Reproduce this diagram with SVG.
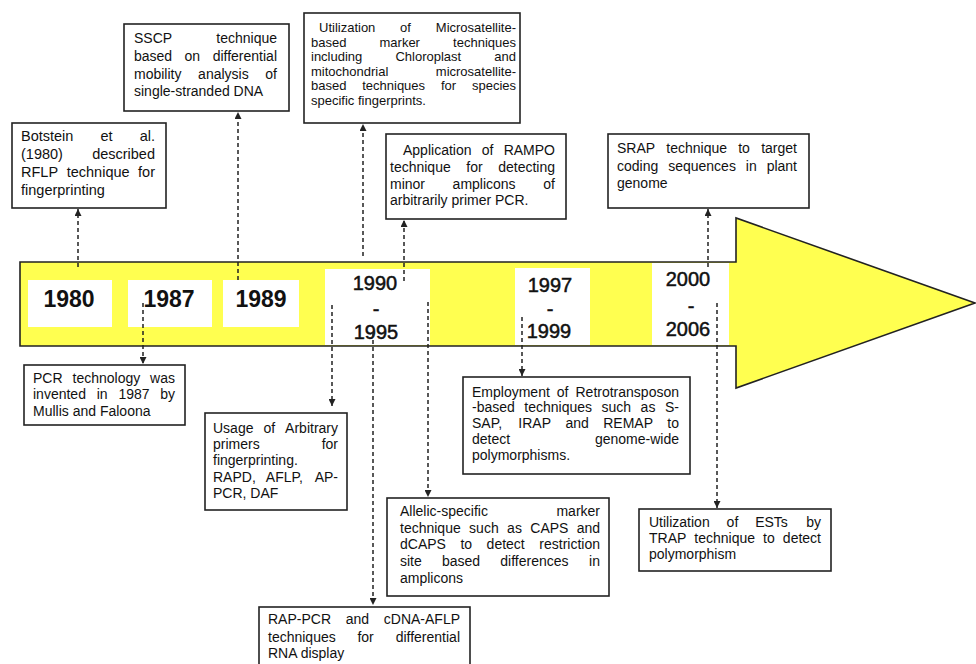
<svg xmlns="http://www.w3.org/2000/svg" width="976" height="664" viewBox="0 0 976 664">
<style>
.bg{fill:#fff}
.box{fill:#fff;stroke:#222;stroke-width:1.6}
.t{font-family:"Liberation Sans",Arial,sans-serif;font-size:14px;fill:#111}
.t1{font-size:14.5px}
.t3{font-size:13px}
.yr{font-family:"Liberation Sans",Arial,sans-serif;font-weight:bold;font-size:23px;fill:#111;text-anchor:middle}
.yr2{font-family:"Liberation Sans",Arial,sans-serif;font-size:20px;fill:#111;stroke:#111;stroke-width:0.5;text-anchor:middle}
.e{text-anchor:end}
.con{fill:none;stroke:#222;stroke-width:1.5;stroke-dasharray:4 3;marker-end:url(#ah)}
.yb{fill:#fff}
</style>
<defs>
<marker id="ah" viewBox="0 0 8 8" refX="8" refY="4" markerWidth="7" markerHeight="7" orient="auto" markerUnits="userSpaceOnUse">
<path d="M0,0 L8,4 L0,8 z" fill="#222"/>
</marker>
</defs>
<rect class="bg" x="0" y="0" width="976" height="664"/>

<g id="timeline">
<polygon points="20,262 736,262 736,218 975,303 736,388 736,346 20,346" fill="#FFFF50" stroke="#222" stroke-width="1.6" stroke-linejoin="miter"/>
<rect class="yb" x="28" y="280" width="84" height="47"/>
<rect class="yb" x="128" y="280" width="84" height="47"/>
<rect class="yb" x="223" y="280" width="76" height="47"/>
<rect class="yb" x="325" y="269" width="105" height="76"/>
<rect class="yb" x="515" y="268" width="75" height="77"/>
<rect class="yb" x="652" y="263" width="77" height="82"/>
</g>

<g id="year-1980"><text class="yr" x="69" y="307">1980</text></g>
<g id="year-1987"><text class="yr" x="169" y="307">1987</text></g>
<g id="year-1989"><text class="yr" x="261" y="307">1989</text></g>
<g id="year-1990-1995">
<text class="yr2" x="375" y="290">1990</text>
<text class="yr2" x="376" y="316">-</text>
<text class="yr2" x="376" y="339">1995</text>
</g>
<g id="year-1997-1999">
<text class="yr2" x="550" y="292">1997</text>
<text class="yr2" x="550" y="316">-</text>
<text class="yr2" x="549" y="338">1999</text>
</g>
<g id="year-2000-2006">
<text class="yr2" x="688" y="286">2000</text>
<text class="yr2" x="691" y="313">-</text>
<text class="yr2" x="688" y="336">2006</text>
</g>

<g id="connectors">
<line class="con" x1="78" y1="267" x2="78" y2="209"/>
<line class="con" x1="238" y1="280" x2="238" y2="112"/>
<line class="con" x1="363" y1="256" x2="363" y2="124"/>
<line class="con" x1="404" y1="281" x2="404" y2="220"/>
<line class="con" x1="708" y1="267" x2="708" y2="209"/>
<line class="con" x1="143" y1="303" x2="143" y2="364"/>
<line class="con" x1="332" y1="305" x2="332" y2="406"/>
<line class="con" x1="373" y1="333" x2="373" y2="605"/>
<line class="con" x1="428" y1="302" x2="428" y2="497"/>
<line class="con" x1="522" y1="317" x2="522" y2="376"/>
<line class="con" x1="717" y1="303" x2="717" y2="508"/>
</g>

<g id="n-botstein">
<rect class="box" x="12" y="123" width="154" height="85"/>
<text class="t t1" y="141"><tspan x="21">Botstein</tspan><tspan x="100.5">et</tspan><tspan x="155" class="e">al.</tspan></text>
<text class="t t1" y="159"><tspan x="21">(1980)</tspan><tspan x="155" class="e">described</tspan></text>
<text class="t t1" y="177"><tspan x="21">RFLP</tspan><tspan x="66.7">technique</tspan><tspan x="155" class="e">for</tspan></text>
<text class="t t1" x="21" y="195">fingerprinting</text>
</g>

<g id="n-sscp">
<rect class="box" x="124" y="24" width="165" height="87"/>
<text class="t" y="43"><tspan x="134">SSCP</tspan><tspan x="277" class="e">technique</tspan></text>
<text class="t" y="61"><tspan x="134">based</tspan><tspan x="184.5">on</tspan><tspan x="277" class="e">differential</tspan></text>
<text class="t" y="79"><tspan x="134">mobility</tspan><tspan x="198.1">analysis</tspan><tspan x="277" class="e">of</tspan></text>
<text class="t" x="134" y="96">single-stranded DNA</text>
</g>

<g id="n-microsatellite">
<rect class="box" x="304" y="13" width="216" height="110"/>
<text class="t t3" y="32"><tspan x="319">Utilization</tspan><tspan x="400.1">of</tspan><tspan x="516" class="e">Microsatellite-</tspan></text>
<text class="t t3" y="46.5"><tspan x="311">based</tspan><tspan x="379.5">marker</tspan><tspan x="516" class="e">techniques</tspan></text>
<text class="t t3" y="61"><tspan x="311">including</tspan><tspan x="395.4">Chloroplast</tspan><tspan x="516" class="e">and</tspan></text>
<text class="t t3" y="75.5"><tspan x="311">mitochondrial</tspan><tspan x="516" class="e">microsatellite-</tspan></text>
<text class="t t3" y="90"><tspan x="311">based</tspan><tspan x="362.2">techniques</tspan><tspan x="440.9">for</tspan><tspan x="516" class="e">species</tspan></text>
<text class="t t3" x="311" y="104.5">specific fingerprints.</text>
</g>

<g id="n-rampo">
<rect class="box" x="386" y="134" width="180" height="85"/>
<text class="t" y="155"><tspan x="403">Application</tspan><tspan x="481.7">of</tspan><tspan x="555" class="e">RAMPO</tspan></text>
<text class="t" y="172"><tspan x="390">technique</tspan><tspan x="466.3">for</tspan><tspan x="555" class="e">detecting</tspan></text>
<text class="t" y="189"><tspan x="390">minor</tspan><tspan x="452.6">amplicons</tspan><tspan x="555" class="e">of</tspan></text>
<text class="t" x="390" y="205">arbitrarily primer PCR.</text>
</g>

<g id="n-srap">
<rect class="box" x="608" y="134" width="201" height="74"/>
<text class="t" y="153"><tspan x="617">SRAP</tspan><tspan x="666.3">technique</tspan><tspan x="738.2">to</tspan><tspan x="797" class="e">target</tspan></text>
<text class="t" y="171"><tspan x="617">coding</tspan><tspan x="668.2">sequences</tspan><tspan x="745.8">in</tspan><tspan x="797" class="e">plant</tspan></text>
<text class="t" x="617" y="188">genome</text>
</g>

<g id="n-pcr">
<rect class="box" x="24" y="365" width="161" height="60"/>
<text class="t" y="383"><tspan x="33">PCR</tspan><tspan x="72.5">technology</tspan><tspan x="175" class="e">was</tspan></text>
<text class="t" y="399"><tspan x="33">invented</tspan><tspan x="96.7">in</tspan><tspan x="118.4">1987</tspan><tspan x="175" class="e">by</tspan></text>
<text class="t" x="33" y="416">Mullis and Faloona</text>
</g>

<g id="n-arbitrary">
<rect class="box" x="205" y="413" width="142" height="97"/>
<text class="t" y="433"><tspan x="213">Usage</tspan><tspan x="263.5">of</tspan><tspan x="338" class="e">Arbitrary</tspan></text>
<text class="t" y="449"><tspan x="213">primers</tspan><tspan x="338" class="e">for</tspan></text>
<text class="t" x="213" y="465">fingerprinting.</text>
<text class="t" y="482"><tspan x="213">RAPD,</tspan><tspan x="265.8">AFLP,</tspan><tspan x="338" class="e">AP-</tspan></text>
<text class="t" x="213" y="498">PCR, DAF</text>
</g>

<g id="n-rap-pcr">
<rect class="box" x="259" y="607" width="211" height="70"/>
<text class="t" y="624"><tspan x="268">RAP-PCR</tspan><tspan x="345.7">and</tspan><tspan x="460" class="e">cDNA-AFLP</tspan></text>
<text class="t" y="642"><tspan x="268">techniques</tspan><tspan x="357.4">for</tspan><tspan x="460" class="e">differential</tspan></text>
<text class="t" x="268" y="658">RNA display</text>
</g>

<g id="n-allelic">
<rect class="box" x="387" y="498" width="222" height="98"/>
<text class="t" y="516"><tspan x="400">Allelic-specific</tspan><tspan x="600" class="e">marker</tspan></text>
<text class="t" y="533"><tspan x="400">technique</tspan><tspan x="469.1">such</tspan><tspan x="507.1">as</tspan><tspan x="530.3">CAPS</tspan><tspan x="600" class="e">and</tspan></text>
<text class="t" y="549"><tspan x="400">dCAPS</tspan><tspan x="460.4">to</tspan><tspan x="486.6">detect</tspan><tspan x="600" class="e">restriction</tspan></text>
<text class="t" y="566"><tspan x="400">site</tspan><tspan x="442">based</tspan><tspan x="500.3">differences</tspan><tspan x="600" class="e">in</tspan></text>
<text class="t" x="400" y="583">amplicons</text>
</g>

<g id="n-retrotransposon">
<rect class="box" x="463" y="377" width="227" height="97"/>
<text class="t" y="397"><tspan x="472">Employment</tspan><tspan x="556.8">of</tspan><tspan x="679" class="e">Retrotransposon</tspan></text>
<text class="t" y="412"><tspan x="472">-based</tspan><tspan x="524.3">techniques</tspan><tspan x="601.5">such</tspan><tspan x="640.6">as</tspan><tspan x="679" class="e">S-</tspan></text>
<text class="t" y="428"><tspan x="472">SAP,</tspan><tspan x="518.3">IRAP</tspan><tspan x="565.4">and</tspan><tspan x="603.2">REMAP</tspan><tspan x="679" class="e">to</tspan></text>
<text class="t" y="444"><tspan x="472">detect</tspan><tspan x="679" class="e">genome-wide</tspan></text>
<text class="t" x="472" y="460">polymorphisms.</text>
</g>

<g id="n-ests">
<rect class="box" x="639" y="509" width="192" height="62"/>
<text class="t" y="527"><tspan x="649">Utilization</tspan><tspan x="726.6">of</tspan><tspan x="755.2">ESTs</tspan><tspan x="821" class="e">by</tspan></text>
<text class="t" y="543"><tspan x="649">TRAP</tspan><tspan x="694.3">technique</tspan><tspan x="763">to</tspan><tspan x="821" class="e">detect</tspan></text>
<text class="t" x="649" y="559">polymorphism</text>
</g>
</svg>
